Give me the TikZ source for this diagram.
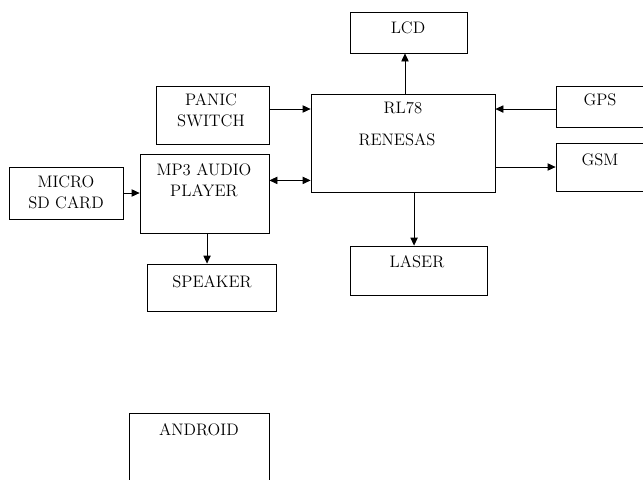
\documentclass[tikz,border=0pt]{standalone}
\usetikzlibrary{arrows.meta}
\begin{document}
\begin{tikzpicture}[x=0.75pt,y=-0.75pt,
  blk/.style 2 args={draw,line width=0.6pt,minimum width=#1*0.75pt,minimum height=#2*0.75pt,inner sep=0pt},
  lbl/.style={align=center,inner sep=0pt,font=\fontsize{12.5}{15.5}\selectfont},
  arr/.style={line width=0.6pt,-{Triangle[length=6pt,width=5.5pt]}},
  dblarr/.style={line width=0.6pt,{Triangle[length=6pt,width=5.5pt]}-{Triangle[length=6pt,width=5.5pt]}}]
\clip (0,0) rectangle (643,479);
% blocks
\node[blk={184}{98}] (rl) at (403,143) {};
\node[blk={117}{41}] (lcd) at (408.5,32.5) {};
\node[blk={113}{58}] (panic) at (212.5,115) {};
\node[blk={129}{79}] (mp3) at (204.5,193.5) {};
\node[blk={114}{52}] (micro) at (66,193) {};
\node[blk={129}{47}] (spk) at (211.5,287.5) {};
\node[blk={137}{49}] (laser) at (418.5,270.5) {};
\node[blk={140}{41}] (gps) at (626,106.5) {};
\node[blk={140}{48}] (gsm) at (626,167) {};
\node[blk={140}{107}] (andr) at (199,466.5) {};
% texts
\node[lbl] at (403,108) {RL78};
\node[lbl] at (397,140) {RENESAS};
\node[lbl] at (408,28) {LCD};
\node[lbl] at (211,110.5) {PANIC\\SWITCH};
\node[lbl] at (204,180) {MP3 AUDIO\\PLAYER};
\node[lbl] at (66,192) {MICRO\\SD CARD};
\node[lbl] at (212,282) {SPEAKER};
\node[lbl] at (417,262) {LASER};
\node[lbl] at (600,100) {GPS};
\node[lbl] at (600,160) {GSM};
\node[lbl] at (199,430) {ANDROID};
% links
\coordinate (pin) at ([yshift=4.5pt]panic.east);
\coordinate (gin) at ([yshift=-1.9pt]gps.west);
\coordinate (mlink) at ([yshift=9pt]rl.south west);
\coordinate (lout) at ([xshift=8.3pt]rl.south);
\coordinate (dout) at ([xshift=1.5pt]rl.north);
\draw[arr] (pin) -- (pin -| rl.west);
\draw[arr] (gin) -- (gin -| rl.east);
\draw[arr] (gsm.west -| rl.east) -- (gsm.west);
\draw[dblarr] (mp3.east |- mlink) -- (mlink);
\draw[arr] (micro.east) -- (micro.east -| mp3.west);
\draw[arr] ([xshift=1.9pt]mp3.south) -- ([xshift=1.9pt]mp3.south |- spk.north);
\draw[arr] (dout) -- (dout |- lcd.south);
\draw[arr] (lout) -- (lout |- laser.north);
\end{tikzpicture}
\end{document}
